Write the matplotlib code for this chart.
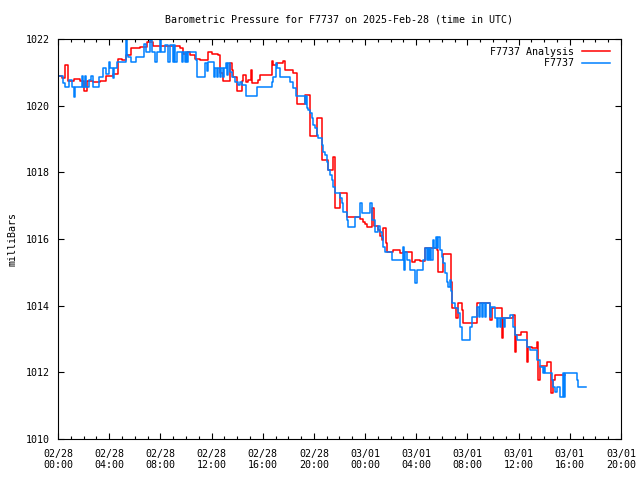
import matplotlib.pyplot as plt
from matplotlib.ticker import MultipleLocator

# hours since 2025-02-28 00:00 UTC, pressure in mb (step series)
analysis_h = [0.00, 0.31, 0.55, 0.76, 1.27, 1.72, 2.03, 2.24, 2.73, 3.28, 3.75, 4.30,
              4.69, 5.00, 5.31, 5.70, 6.41, 6.95, 7.42, 9.53, 9.77, 10.08, 10.31, 10.70,
              11.09, 11.72, 12.03, 12.50, 12.66, 12.89, 13.44, 13.59, 13.67, 13.98, 14.38,
              14.45, 14.69, 14.84, 15.08, 15.16, 15.63, 15.78, 16.72, 16.84, 17.11, 17.58,
              17.73, 18.36, 18.67, 19.30, 19.69, 20.23, 20.63, 21.09, 21.48, 21.64, 22.03,
              22.58, 23.59, 23.83, 24.00, 24.14, 24.53, 24.69, 25.00, 25.16, 25.31, 25.39,
              25.63, 25.70, 26.17, 26.72, 26.95, 27.66, 27.89, 28.28, 28.67, 29.61, 29.69,
              30.08, 30.70, 30.78, 31.09, 31.25, 31.56, 31.64, 32.73, 33.75, 33.91, 34.69,
              34.77, 35.55, 35.70, 35.78, 36.17, 36.64, 36.72, 37.03, 37.42, 37.50, 37.66,
              38.20, 38.52, 38.67, 38.83, 39.61]
analysis_mb = [1020.90, 1020.82, 1021.22, 1020.75, 1020.80, 1020.75, 1020.44, 1020.75,
               1020.70, 1020.75, 1020.90, 1020.94, 1021.40, 1021.37, 1021.52, 1021.72,
               1021.77, 1021.92, 1021.79, 1021.74, 1021.55, 1021.61, 1021.52, 1021.39,
               1021.37, 1021.62, 1021.55, 1021.52, 1020.98, 1020.75, 1021.27, 1021.07,
               1020.85, 1020.44, 1020.75, 1020.92, 1020.72, 1020.77, 1021.07, 1020.67,
               1020.77, 1020.92, 1021.34, 1021.22, 1021.27, 1021.34, 1021.07, 1020.97,
               1020.05, 1020.32, 1019.09, 1019.62, 1018.37, 1018.07, 1018.47, 1016.93,
               1017.38, 1016.66, 1016.60, 1016.52, 1016.45, 1016.37, 1016.93, 1016.39,
               1016.27, 1016.10, 1015.97, 1016.33, 1015.88, 1015.62, 1015.67, 1015.58,
               1015.62, 1015.32, 1015.37, 1015.34, 1015.73, 1015.67, 1015.02, 1015.55,
               1014.72, 1013.92, 1013.62, 1014.07, 1013.87, 1013.47, 1014.09, 1013.57,
               1013.92, 1013.02, 1013.62, 1013.72, 1012.62, 1013.12, 1013.22, 1012.32,
               1012.77, 1012.72, 1012.92, 1011.77, 1012.20, 1012.32, 1011.38, 1011.77,
               1011.92, 1011.92]

obs_h = [0.00, 0.39, 0.55, 0.86, 1.09, 1.25, 1.33, 1.88, 1.95, 2.11, 2.19, 2.42, 2.58,
         2.73, 3.20, 3.52, 3.75, 3.98, 4.06, 4.30, 4.38, 4.61, 5.31, 5.39, 5.47, 5.70,
         6.09, 6.72, 6.88, 7.19, 7.34, 7.58, 7.73, 7.97, 8.05, 8.36, 8.59, 8.75, 8.98,
         9.06, 9.14, 9.30, 9.69, 9.77, 9.92, 10.00, 10.08, 10.16, 10.78, 10.86, 11.48,
         11.64, 11.72, 12.19, 12.27, 12.42, 12.50, 12.66, 12.73, 12.89, 12.97, 13.13,
         13.20, 13.28, 13.44, 13.59, 13.83, 14.06, 14.22, 14.38, 14.69, 15.55, 16.72,
         16.80, 17.03, 17.11, 17.34, 18.13, 18.36, 18.59, 19.30, 19.38, 19.45, 19.53,
         19.69, 19.84, 19.92, 20.08, 20.23, 20.31, 20.63, 20.70, 20.86, 21.02, 21.09,
         21.25, 21.41, 21.48, 21.64, 22.03, 22.19, 22.27, 22.58, 22.66, 23.20, 23.59,
         23.75, 24.38, 24.53, 24.77, 25.00, 25.16, 25.31, 25.39, 25.55, 26.09, 26.95,
         27.03, 27.11, 27.27, 27.50, 27.89, 28.05, 28.52, 28.67, 28.83, 28.91, 28.98,
         29.06, 29.14, 29.30, 29.38, 29.53, 29.61, 29.69, 29.84, 30.00, 30.08, 30.23,
         30.39, 30.47, 30.63, 30.70, 30.78, 31.02, 31.25, 31.41, 31.56, 32.19, 32.34,
         32.73, 32.89, 32.97, 33.13, 33.20, 33.36, 33.44, 33.75, 33.83, 34.14, 34.30,
         34.38, 34.53, 34.61, 34.84, 34.92, 35.31, 35.55, 35.70, 35.86, 36.64, 36.88,
         37.42, 37.66, 37.89, 37.97, 38.05, 38.59, 38.67, 38.83, 38.98, 39.22, 39.45,
         39.53, 39.61, 40.55, 40.63, 40.78, 41.25]
obs_mb = [1020.90, 1020.67, 1020.57, 1020.77, 1020.57, 1020.27, 1020.57, 1020.89, 1020.57,
          1020.89, 1020.57, 1020.77, 1020.89, 1020.57, 1020.87, 1021.12, 1020.94, 1021.31,
          1021.12, 1020.83, 1021.12, 1021.30, 1021.97, 1021.52, 1021.47, 1021.31, 1021.47,
          1021.85, 1021.62, 1021.97, 1021.62, 1021.32, 1021.62, 1021.97, 1021.62, 1021.82,
          1021.32, 1021.82, 1021.32, 1021.82, 1021.32, 1021.62, 1021.32, 1021.62, 1021.32,
          1021.61, 1021.32, 1021.60, 1021.37, 1020.87, 1021.27, 1021.04, 1021.32, 1020.87,
          1021.12, 1020.87, 1021.12, 1020.87, 1021.12, 1020.87, 1021.12, 1021.27, 1020.92,
          1021.27, 1021.02, 1020.87, 1020.72, 1020.62, 1020.72, 1020.62, 1020.29, 1020.57,
          1020.72, 1020.87, 1021.27, 1021.12, 1020.87, 1020.72, 1020.52, 1020.29, 1020.05,
          1020.29, 1019.93, 1019.87, 1019.77, 1019.63, 1019.42, 1019.33, 1019.12, 1019.02,
          1018.82, 1018.62, 1018.52, 1018.32, 1018.07, 1017.92, 1017.77, 1017.57, 1017.37,
          1017.22, 1017.07, 1016.82, 1016.57, 1016.37, 1016.67, 1017.07, 1016.77, 1017.07,
          1016.57, 1016.22, 1016.39, 1016.22, 1016.07, 1015.77, 1015.62, 1015.37, 1015.77,
          1015.07, 1015.62, 1015.37, 1015.07, 1014.67, 1015.07, 1015.37, 1015.73, 1015.37,
          1015.73, 1015.37, 1015.73, 1015.37, 1015.97, 1015.73, 1016.06, 1015.73, 1016.06,
          1015.67, 1015.47, 1015.28, 1014.98, 1014.72, 1014.57, 1014.77, 1014.44, 1014.07,
          1013.92, 1013.77, 1013.37, 1012.97, 1013.37, 1013.67, 1013.97, 1013.67, 1014.09,
          1013.67, 1014.09, 1013.67, 1014.09, 1013.67, 1013.97, 1013.62, 1013.37, 1013.62,
          1013.37, 1013.62, 1013.37, 1013.62, 1013.72, 1013.37, 1013.12, 1012.97, 1012.77,
          1012.67, 1012.37, 1012.17, 1011.98, 1012.17, 1011.97, 1011.77, 1011.57, 1011.42,
          1011.57, 1011.27, 1011.97, 1011.27, 1011.97, 1011.77, 1011.57, 1011.55, 1011.55]

tick_hours = [0, 4, 8, 12, 16, 20, 24, 28, 32, 36, 40, 44]
tick_labels = ['02/28\n00:00', '02/28\n04:00', '02/28\n08:00', '02/28\n12:00',
               '02/28\n16:00', '02/28\n20:00', '03/01\n00:00', '03/01\n04:00',
               '03/01\n08:00', '03/01\n12:00', '03/01\n16:00', '03/01\n20:00']

plt.rcParams['font.family'] = ['DejaVu Sans Mono']
plt.rcParams['font.size'] = 7.2

fig = plt.figure(figsize=(6.4, 4.8), dpi=100)
ax = fig.add_axes([0.0906, 0.0854, 0.8797, 0.8333])

ax.plot(analysis_h, analysis_mb, drawstyle='steps-post', color='#ff0000', lw=1.1,
        label='F7737 Analysis')
ax.plot(obs_h, obs_mb, drawstyle='steps-post', color='#0080ff', lw=1.1,
        label='         F7737')

ax.set_xlim(0, 44)
ax.set_ylim(1010, 1022)
ax.set_xticks(tick_hours)
ax.set_xticklabels(tick_labels)
ax.xaxis.set_minor_locator(MultipleLocator(1))
ax.yaxis.set_major_locator(MultipleLocator(2))
ax.tick_params(which='both', direction='in', top=True, right=True, width=0.8, color='black')
ax.tick_params(which='major', length=4.5)
ax.tick_params(which='minor', length=2.5)
ax.tick_params(axis='x', pad=7)
ax.tick_params(axis='y', pad=6)
for s in ax.spines.values():
    s.set_linewidth(0.8)

ax.set_title('Barometric Pressure for F7737 on 2025-Feb-28 (time in UTC)',
             fontsize=7.2, pad=12)
ax.set_ylabel('milliBars', labelpad=6)

ax.legend(loc='upper right', bbox_to_anchor=(0.981, 0.981), frameon=False,
          markerfirst=False, handlelength=2.8, handletextpad=0.8,
          borderaxespad=0, borderpad=0, labelspacing=0.15)

plt.savefig('out.png', dpi=100)
